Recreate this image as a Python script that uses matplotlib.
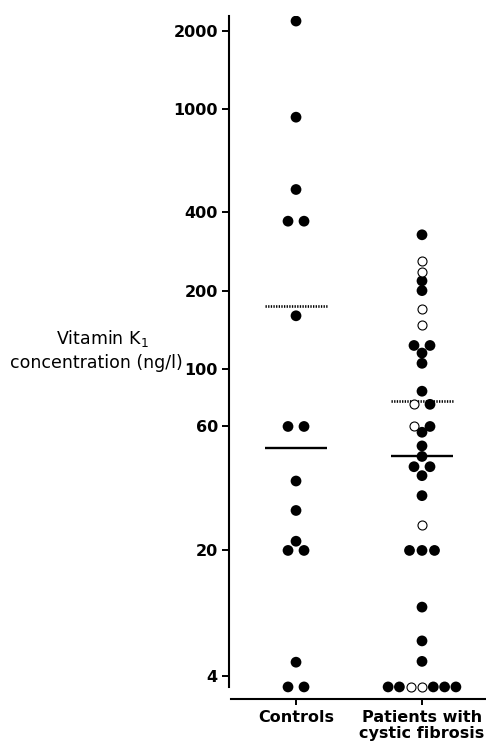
import numpy as np
import matplotlib
matplotlib.use('Agg')
import matplotlib.pyplot as plt
from matplotlib.ticker import NullLocator

# data (ng/l)
groups = ['Controls', 'Patients with\ncystic fibrosis']
controls = [2180, 930, 490, 370, 370, 160, 60, 60, 37, 28.5, 21.7, 20, 20, 4.8, 3.5, 3.5]
patients = [328, 259, 235, 218, 200, 170, 148, 123, 123, 115, 105, 82, 73, 73, 60, 60,
            57, 50.5, 46, 42, 42, 38.8, 32.5, 25, 20, 20, 20, 9.7, 6.3, 4.85,
            3.5, 3.5, 3.5, 3.5, 3.5, 3.5, 3.5]
patients_open = [0, 1, 1, 0, 0, 1, 1, 0, 0, 0, 0, 0, 1, 0, 1, 0,
                 0, 0, 0, 0, 0, 0, 0, 1, 0, 0, 0, 0, 0, 0,
                 0, 0, 1, 1, 0, 0, 0]
means = [174, 75.5]      # dotted lines
medians = [49.5, 46]     # solid lines
yticks = [4, 20, 60, 100, 200, 400, 1000, 2000]

# log axis, squeezed below 20 as in the original
BREAK = 20.0
K = 0.694


def fwd(v):
    L = np.log10(np.clip(v, 1e-3, None))
    b = np.log10(BREAK)
    return np.where(L >= b, L, b - (b - L) * K)


def inv(u):
    b = np.log10(BREAK)
    return np.where(u >= b, 10.0 ** u, 10.0 ** (b - (b - u) / K))


fig = plt.figure(figsize=(4.86, 7.44), dpi=100)
ax = fig.add_axes([229 / 486, 45 / 744, 1 - 229 / 486, 683 / 744])
ax.set_yscale('function', functions=(fwd, inv))
ax.set_ylim(3.0, 2280)
ax.set_xlim(-0.532, 1.508)

px_per_unit = ax.transData.transform((1, 0))[0] - ax.transData.transform((0, 0))[0]


def row_offsets(values):
    # spread equal values side by side, centred on the group
    offs = np.zeros(len(values))
    i = 0
    while i < len(values):
        j = i
        while j < len(values) and values[j] == values[i]:
            j += 1
        n = j - i
        sp = {1: 0, 2: 16, 3: 12.5}.get(n, 11.3)
        offs[i:j] = (np.arange(n) - (n - 1) / 2) * sp
        i = j
    return offs / px_per_unit


for gi, (vals, op) in enumerate([(controls, [0] * len(controls)), (patients, patients_open)]):
    vals = np.array(vals, dtype=float)
    op = np.array(op, dtype=bool)
    x = gi + row_offsets(vals)
    ax.scatter(x[~op], vals[~op], s=60, c='black', edgecolors='none', zorder=3)
    ax.scatter(x[op], vals[op], s=42, facecolors='white', edgecolors='black',
               linewidths=0.8, zorder=4)

pos = np.arange(len(groups))
ax.hlines(means, pos - 0.245, pos + 0.245, colors='black', linewidth=1.9,
          linestyles=(0, (0.5, 0.5)), zorder=2)
ax.hlines(medians, pos - 0.245, pos + 0.245, colors='black', linewidth=1.7, zorder=2)

ax.set_yticks(yticks)
ax.set_yticklabels([str(t) for t in yticks])
ax.yaxis.set_minor_locator(NullLocator())
ax.set_xticks(pos)
ax.set_xticklabels(groups, linespacing=1.05)

for lab in ax.get_yticklabels() + ax.get_xticklabels():
    lab.set_fontsize(11.5)
    lab.set_fontweight('bold')

ax.tick_params(axis='y', length=5, width=1.4, pad=3)
ax.tick_params(axis='x', length=4, width=1.4, pad=4)

for s in ['top', 'right']:
    ax.spines[s].set_visible(False)
ax.spines['left'].set_linewidth(1.5)
ax.spines['bottom'].set_linewidth(1.5)
ax.spines['left'].set_bounds(3.5, 2280)
ax.spines['bottom'].set_bounds(-0.516, 1.508)

fig.text(102 / 486, 1 - 339 / 744, 'Vitamin K$_\\mathregular{1}$', ha='center', va='center', fontsize=12.5)
fig.text(96 / 486, 1 - 363 / 744, 'concentration (ng/l)', ha='center', va='center', fontsize=12.5)

fig.savefig('out.png', dpi=100)
